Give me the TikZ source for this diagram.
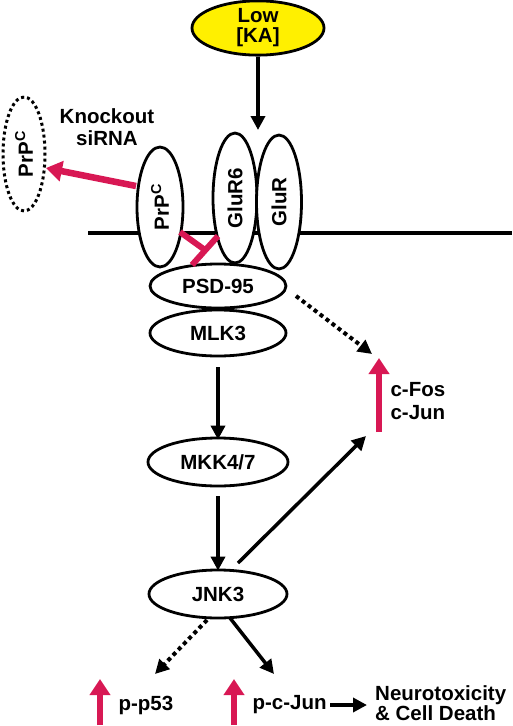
\documentclass[tikz,border=0pt]{standalone}
\usepackage{fontspec}
\setmainfont{Liberation Sans}
\usetikzlibrary{shapes.geometric,arrows.meta}
\definecolor{pinkred}{RGB}{216,24,84}
\definecolor{kayellow}{RGB}{255,240,0}
\begin{document}
\begin{tikzpicture}[x=1pt,y=-1pt,
  every node/.style={font=\fontsize{20.5}{22}\selectfont\bfseries},
  oval/.style={draw, ellipse, line width=2.8pt, inner sep=0pt, fill=white},
  arr/.style={line width=3.5pt, -{Triangle[length=14pt,width=14pt]}},
  dotarr/.style={line width=4pt, dash pattern=on 4pt off 3.5pt, -{Triangle[length=14pt,width=14pt]}},
  pinkarr/.style={pinkred, line width=6.5pt, -{Triangle[length=16pt,width=20pt]}},
  pinkbar/.style={pinkred, line width=6pt},
]
\useasboundingbox (0,0) rectangle (512,726);

% membrane
\coordinate (memL) at (88,233);
\coordinate (memR) at (512,233);
\draw[line width=4pt] (memL) -- (memR);

% nodes
\node[oval, fill=kayellow, minimum width=132, minimum height=54, align=center] (ka) at (258,28) {Low\\[-2pt][KA]};
\node[draw, ellipse, line width=3pt, dash pattern=on 3pt off 3pt, inner sep=0pt, rotate=90, minimum width=114, minimum height=42] (prpko) at (24,154) {PrP\textsuperscript{C}};
\node[oval, rotate=90, minimum width=120, minimum height=46] (prp) at (160,207) {PrP\textsuperscript{C}};
\node[oval, rotate=90, minimum width=130, minimum height=44] (glur6) at (235,198) {GluR6};
\node[oval, rotate=90, minimum width=134, minimum height=45] (glur) at (279,202) {GluR};
\node[oval, minimum width=136, minimum height=44] (psd) at (218,286) {PSD-95};
\node[oval, minimum width=136, minimum height=46] (mlk) at (218,333) {MLK3};
\node[oval, minimum width=140, minimum height=48] (mkk) at (218,462) {MKK4/7};
\node[oval, minimum width=138, minimum height=48] (jnk) at (218,594) {JNK3};

\node[align=center] (ko) at (107,127) {Knockout\\siRNA};
\node[anchor=west, align=left] (cfos) at (387,401) {c-Fos\\[1pt]c-Jun};
\node[anchor=west] (pp53) at (115,705) {p-p53};
\node[anchor=west] (pcjun) at (249,705) {p-c-Jun};
\node[anchor=west, align=left, inner sep=1pt] (neuro) at (374,703) {Neurotoxicity\\[-2pt]\& Cell Death};

% coordinates
\coordinate (kaend) at (258,130);
\coordinate (koS) at (136,186);
\coordinate (koE) at (46,168);
\coordinate (tS) at (180,232);
\coordinate (tE) at (205,250);
\coordinate (barA) at (192,265);
\coordinate (barB) at (218,236);
\coordinate (psdS) at (296,296);
\coordinate (cfosTip) at (372,354);
\coordinate (jnkUpS) at (238,563);
\coordinate (jnkUpE) at (366,436);
\coordinate (jnkDotS) at (207,620);
\coordinate (p53Tip) at (155,674);
\coordinate (jnkSolS) at (230,618);
\coordinate (cjunTip) at (274,674);
\coordinate (up1S) at (100,725);
\coordinate (up1E) at (100,679);
\coordinate (up2S) at (234,725);
\coordinate (up2E) at (234,679);
\coordinate (up3S) at (379,432);
\coordinate (up3E) at (379,358);
\coordinate (neuroIn) at (367,705);

% connectors
\draw[arr] (ka.south) -- (kaend);
\draw[pinkarr] (koS) -- (koE);
\draw[pinkbar] (tS) -- (tE);
\draw[pinkbar] (barA) -- (barB);
\draw[dotarr] (psdS) -- (cfosTip);
\draw[arr] (mlk.south) ++(0,10) -- ([yshift=-3pt]mkk.north);
\draw[arr] (mkk.south) ++(0,9) -- ([yshift=-2pt]jnk.north);
\draw[arr] (jnkUpS) -- (jnkUpE);
\draw[dotarr] (jnkDotS) -- (p53Tip);
\draw[arr] (jnkSolS) -- (cjunTip);
\draw[arr, line width=4pt] (pcjun.east) -- (neuroIn);

\draw[pinkarr] (up1S) -- (up1E);
\draw[pinkarr] (up2S) -- (up2E);
\draw[pinkarr] (up3S) -- (up3E);
\end{tikzpicture}
\end{document}
